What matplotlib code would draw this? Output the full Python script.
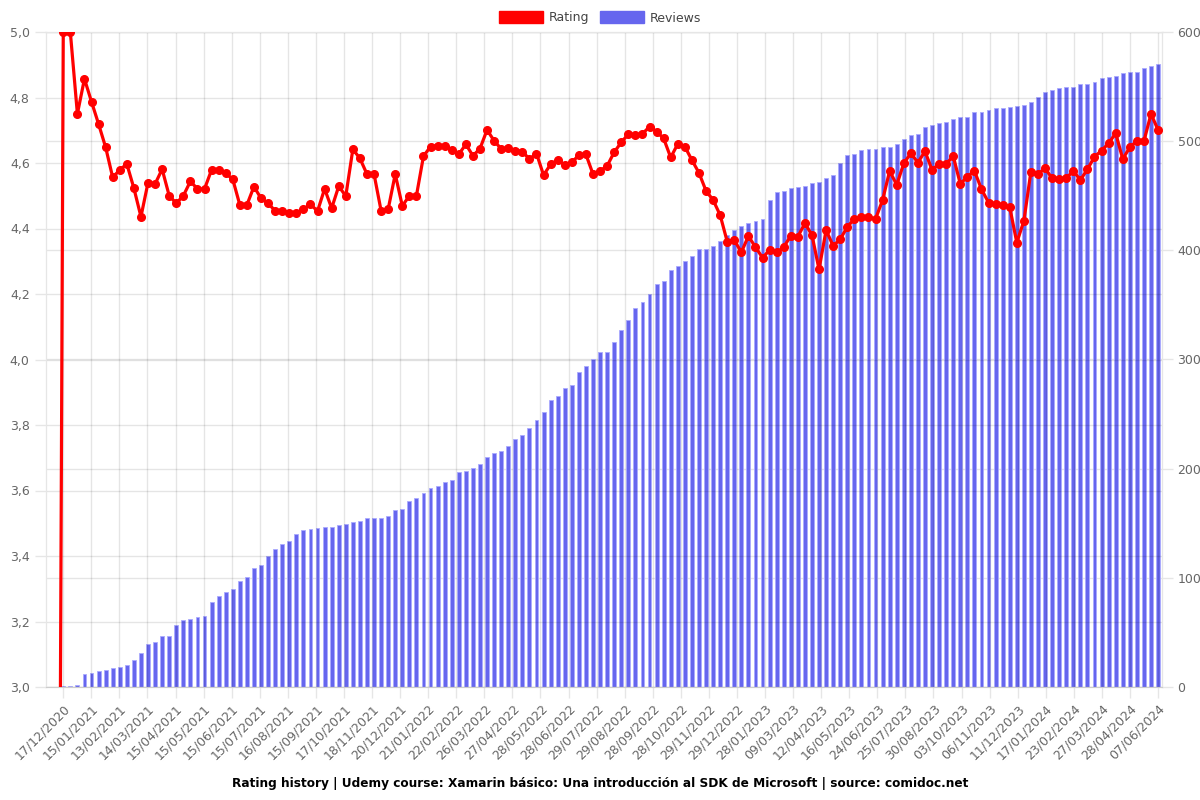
import numpy as np
import matplotlib
matplotlib.use("Agg")
import matplotlib.pyplot as plt
from matplotlib.patches import Patch
from matplotlib.ticker import FuncFormatter

plt.rcParams['font.family'] = ['DejaVu Sans']

# two leading entries before the first rating (no rating yet, no reviews)
rating = [0.0, 0.0,
          5.0, 5.0, 4.75, 4.857, 4.787, 4.719, 4.648, 4.556, 4.579, 4.597,
          4.523, 4.436, 4.540, 4.536, 4.581, 4.500, 4.477, 4.500, 4.544, 4.521,
          4.521, 4.579, 4.579, 4.569, 4.550, 4.472, 4.472, 4.528, 4.492, 4.477,
          4.454, 4.454, 4.446, 4.448, 4.459, 4.474, 4.453, 4.521, 4.462, 4.529,
          4.499, 4.642, 4.614, 4.566, 4.566, 4.454, 4.459, 4.566, 4.469, 4.500,
          4.500, 4.621, 4.650, 4.653, 4.653, 4.640, 4.627, 4.657, 4.622, 4.644,
          4.701, 4.668, 4.643, 4.645, 4.638, 4.635, 4.612, 4.629, 4.563, 4.596,
          4.609, 4.594, 4.602, 4.624, 4.626, 4.566, 4.576, 4.591, 4.633, 4.663,
          4.688, 4.684, 4.689, 4.711, 4.696, 4.675, 4.617, 4.658, 4.650, 4.609,
          4.570, 4.515, 4.487, 4.441, 4.360, 4.365, 4.327, 4.377, 4.343, 4.311,
          4.334, 4.327, 4.343, 4.378, 4.375, 4.416, 4.380, 4.275, 4.395, 4.347,
          4.367, 4.405, 4.429, 4.434, 4.434, 4.429, 4.487, 4.576, 4.533, 4.599,
          4.630, 4.601, 4.636, 4.579, 4.597, 4.597, 4.621, 4.536, 4.558, 4.576,
          4.520, 4.479, 4.474, 4.472, 4.465, 4.357, 4.423, 4.574, 4.566, 4.584,
          4.553, 4.550, 4.553, 4.576, 4.548, 4.581, 4.619, 4.638, 4.660, 4.691,
          4.612, 4.648, 4.667, 4.667, 4.750, 4.701]

reviews = [0, 0,
           1, 1, 2, 12, 13, 15, 16, 17, 18, 20,
           25, 31, 39, 41, 47, 47, 57, 61, 62, 64,
           65, 78, 83, 87, 90, 97, 101, 109, 112, 120,
           126, 131, 134, 140, 144, 145, 146, 147, 147, 148,
           149, 151, 152, 155, 155, 155, 157, 162, 163, 170,
           173, 178, 182, 184, 188, 190, 197, 198, 201, 204,
           211, 214, 216, 221, 227, 231, 237, 245, 252, 263,
           267, 274, 277, 289, 294, 300, 307, 307, 316, 327,
           336, 347, 353, 360, 369, 372, 382, 386, 390, 395,
           401, 401, 404, 409, 414, 419, 422, 425, 427, 429,
           446, 453, 454, 457, 458, 459, 462, 463, 466, 469,
           480, 487, 488, 492, 493, 493, 495, 495, 497, 502,
           506, 507, 513, 515, 517, 518, 520, 522, 522, 527,
           527, 529, 530, 530, 531, 532, 533, 536, 540, 545,
           547, 549, 550, 550, 552, 552, 554, 558, 559, 560,
           562, 563, 563, 567, 569, 571]

tick_labels = ["17/12/2020", "15/01/2021", "13/02/2021", "14/03/2021", "15/04/2021",
               "15/05/2021", "15/06/2021", "15/07/2021", "16/08/2021", "15/09/2021",
               "17/10/2021", "18/11/2021", "20/12/2021", "21/01/2022", "22/02/2022",
               "26/03/2022", "27/04/2022", "28/05/2022", "28/06/2022", "29/07/2022",
               "29/08/2022", "28/09/2022", "28/10/2022", "29/11/2022", "29/12/2022",
               "28/01/2023", "09/03/2023", "12/04/2023", "16/05/2023", "24/06/2023",
               "25/07/2023", "30/08/2023", "03/10/2023", "06/11/2023", "11/12/2023",
               "17/01/2024", "23/02/2024", "27/03/2024", "28/04/2024", "07/06/2024"]

title = ("Rating history | Udemy course: Xamarin básico: Una introducción al SDK "
         "de Microsoft | source: comidoc.net")

n = len(rating)
x = np.arange(n)
lead = 2

RED = "#ff0000"
BLUE = "#6666ee"
GRIDC = "#000000"
GA = 0.1
SPINE = "#e6e6e6"
TXT = "#666666"

fig = plt.figure(figsize=(12, 8), dpi=100)
ax1 = fig.add_axes([0.038, 0.14125, 0.930, 0.81875])
ax2 = ax1.twinx()

ax2.bar(x, reviews, width=0.55, color=BLUE, edgecolor="#aaaaff",
        linewidth=0.6, zorder=2)
ax1.plot(x, rating, color=RED, lw=2.3, marker='o', ms=5.5, mfc=RED, mec=RED,
         zorder=5, clip_on=True)

ax1.set_zorder(ax2.get_zorder() + 1)
ax1.patch.set_visible(False)

ax1.set_xlim(-0.5, n - 0.5)
ax1.set_ylim(3.0, 5.0)
ax2.set_ylim(0, 600)

ax1.set_yticks(np.arange(3.0, 5.01, 0.2))
ax1.yaxis.set_major_formatter(FuncFormatter(lambda v, p: f"{v:.1f}".replace('.', ',')))
ax2.set_yticks(np.arange(0, 601, 100))

tpos = np.linspace(lead, n - 1, len(tick_labels))
ax1.set_xticks(tpos)
ax1.set_xticklabels(tick_labels, rotation=45, ha='right', rotation_mode='anchor')

for ax in (ax1, ax2):
    ax.tick_params(axis='both', color=SPINE, labelcolor=TXT, labelsize=9, length=8, width=1)
    for s in ax.spines.values():
        s.set_color(SPINE)
ax1.spines['bottom'].set_color("#cccccc")
ax1.tick_params(axis='x', pad=3)
ax1.grid(True, color=GRIDC, alpha=GA, lw=1)
ax2.grid(True, axis='y', color=GRIDC, alpha=GA, lw=1)
ax2.set_axisbelow(True)
ax1.set_axisbelow(True)

handles = [Patch(facecolor=RED, edgecolor=RED), Patch(facecolor=BLUE, edgecolor=BLUE)]
fig.legend(handles, ["Rating", "Reviews"], loc='upper center', bbox_to_anchor=(0.5, 1.0),
           ncol=2, frameon=False, fontsize=9, handlelength=3.5, handleheight=1.1,
           columnspacing=0.9, handletextpad=0.45, labelcolor="#444444")

fig.text(0.5, 0.021, title, ha='center', va='center', fontsize=8.7, fontweight='bold')

fig.savefig("out.png", dpi=100)
